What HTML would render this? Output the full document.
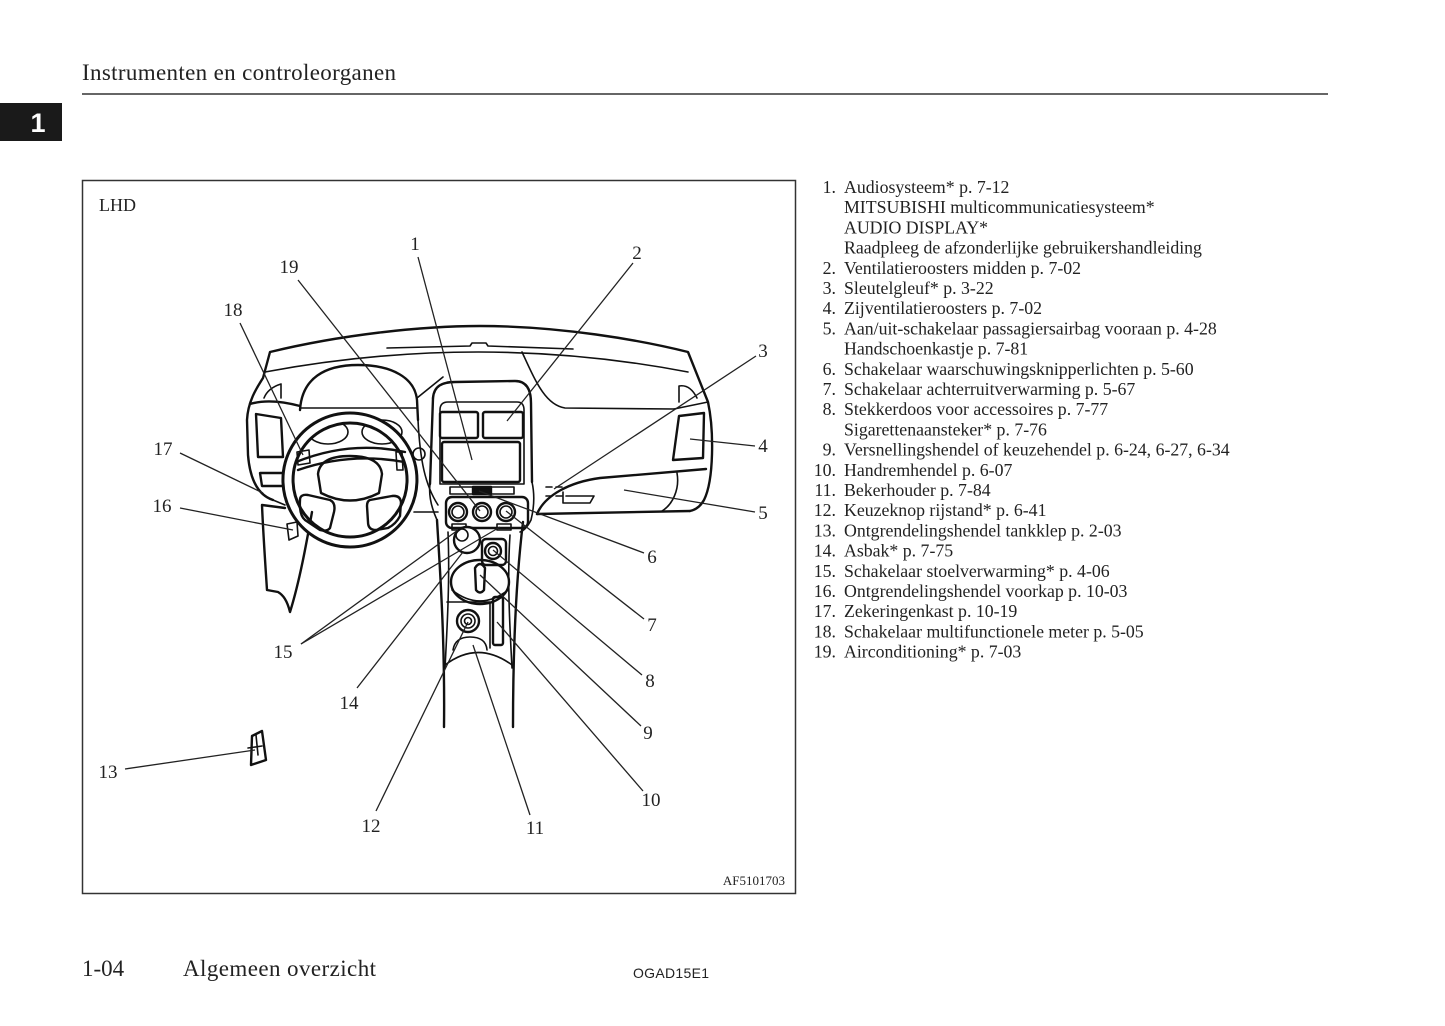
<!DOCTYPE html>
<html><head><meta charset="utf-8"><style>
html,body{margin:0;padding:0;background:#fff;}
svg{display:block;}
.s{font-family:"Liberation Serif",serif;fill:#222;}
.d{fill:none;stroke:#111;stroke-width:2.4;stroke-linejoin:round;stroke-linecap:round;}
.t{fill:none;stroke:#111;stroke-width:1.6;stroke-linecap:round;}
.l{stroke:#222;stroke-width:1.3;fill:none;}
</style></head><body>
<svg width="1445" height="1026" viewBox="0 0 1445 1026" xmlns="http://www.w3.org/2000/svg">
<rect width="1445" height="1026" fill="#fff"/>
<!-- header -->
<text class="s" x="82" y="80" font-size="23" textLength="314">Instrumenten en controleorganen</text>
<line x1="82" y1="94" x2="1328" y2="94" stroke="#333" stroke-width="1.6"/>
<rect x="0" y="103" width="62" height="38" fill="#1a1a1a"/>
<text x="38" y="132" font-family="Liberation Sans,sans-serif" font-weight="bold" font-size="27" fill="#fff" text-anchor="middle">1</text>

<!-- diagram frame -->
<rect x="82.5" y="180.5" width="713" height="713" fill="none" stroke="#333" stroke-width="1.5"/>
<text class="s" x="99" y="211" font-size="18">LHD</text>
<text class="s" x="785" y="885" font-size="13" text-anchor="end">AF5101703</text>

<!-- dashboard drawing -->
<g class="d">
  <!-- outer dash -->
  <path d="M273,500 C258,495 250,480 248,455 L247,420 C248,400 258,386 263,378 L270,352 C340,335 420,326 480,326 C560,326 640,340 688,352 L708,402 C714,430 714,480 704,500 C700,507 695,510 690,511"/>
  <path class="t" d="M265,372 Q480,332 688,372"/>
  <path class="t" d="M387,348 L470,346 L472,343 L486,343 L488,346 L573,349"/>
  <!-- left vent -->
  <path d="M250,404 Q270,398 300,406"/>
  <path d="M256,414 L281,418 L283,457 L258,457 Z"/>
  <path d="M260,473 L283,473 L285,486 L262,486 Z"/>
  <path class="t" d="M264,398 Q268,388 281,384 L281,398"/>
  <!-- knee panel (behind wheel) -->
  <path d="M262,505 L285,508 M312,512 C307,540 300,580 290,612 C287,600 283,595 278,592 L267,590 C265,560 263,530 262,505"/>
  <!-- cluster hood -->
  <path d="M300,410 C302,378 325,365 358,365 C392,365 415,378 417,400 L418,420"/>
  <path class="t" d="M417,398 L443,377"/>
  <path class="t" d="M300,408 L417,408"/>
  <ellipse class="t" cx="328" cy="432" rx="20" ry="12"/>
  <ellipse class="t" cx="382" cy="432" rx="20" ry="12"/>
  <!-- steering wheel -->
  <path d="M350,413 A67,67 0 1,1 349.9,413 Z M350,423 A57,57 0 1,0 350.1,423 Z" fill="#fff" fill-rule="evenodd" stroke-width="3"/>
  <path d="M296,462 Q350,440 405,452"/>
  <path d="M298,470 Q350,452 404,462"/>
  <path d="M318,474 Q320,456 350,456 Q380,456 382,474 L379,493 Q350,508 321,493 Z"/>
  <path d="M300,500 Q300,494 308,495 L330,500 Q336,503 334,512 L330,528 Q327,532 320,530 L305,520 Q299,515 300,500 Z"/>
  <path d="M370,500 L392,496 Q400,495 401,502 L400,516 Q396,524 388,528 L376,530 Q368,530 368,522 L367,506 Q367,501 370,500 Z"/>
  <path class="t" d="M297,452 L309,450 L310,463 L298,465 Z"/>
  <path class="t" d="M396,452 L402,452 L403,470 L397,470 Z"/>
  <circle class="t" cx="419" cy="454" r="6"/>
  <path class="t" d="M287,524 L297,522 L298,536 L289,540 Z"/>
  <!-- lower dash lines -->
  <path class="t" d="M273,500 L285,505"/>
  <path class="t" d="M414,512 L438,512"/>
  <path class="t" d="M418,420 C420,460 425,485 438,505"/>
  <!-- center stack -->
  <path d="M433,398 C434,386 442,382 455,382 L515,381 C527,381 531,390 531,403 L532,482"/>
  <path d="M433,398 L430,484"/>
  <path class="t" d="M440,410 Q440,402 448,402 L517,402 Q524,402 524,410 L524,484 L440,484 Z"/>
  <rect x="440" y="412" width="38" height="26" rx="2"/>
  <rect x="483" y="412" width="40" height="26" rx="2"/>
  <rect x="442" y="442" width="78" height="40" rx="2"/>
  <rect class="t" x="450" y="487" width="64" height="7"/>
  <rect x="473" y="487" width="18" height="7" fill="#111"/>
  <!-- right dash -->
  <path class="t" d="M522,352 C535,380 545,405 565,408 L674,409"/>
  <path class="t" d="M674,409 L708,402"/>
  <path d="M679,416 L704,413 L703,458 L673,460 Z"/>
  <path class="t" d="M679,402 L679,386 Q690,384 697,398"/>
  <path d="M537,514 C545,495 570,482 600,478 L706,469"/>
  <path d="M537,514 L690,511"/>
  <path class="t" d="M677,473 C680,490 672,505 662,511"/>
  <path class="t" d="M546,487 L552,487 M556,487 L562,487 M546,496 L552,496 M556,496 L562,496" stroke-width="2.5"/>
  <path class="t" d="M563,492 L563,503 L590,503 L594,496 L566,496"/>
  <path class="t" d="M532,482 Q536,500 531,520 Q526,530 520,532"/>
  <path class="t" d="M430,484 Q428,500 437,520"/>
  <!-- knob panel -->
  <rect x="446" y="497" width="82" height="31" rx="6"/>
  <circle cx="458" cy="512" r="9"/><circle class="t" cx="458" cy="512" r="6"/>
  <circle cx="482" cy="512" r="9"/><circle class="t" cx="482" cy="512" r="6"/>
  <circle cx="506" cy="512" r="9"/><circle class="t" cx="506" cy="512" r="6"/>
  <rect class="t" x="452" y="524" width="14" height="6"/>
  <rect class="t" x="497" y="524" width="14" height="6"/>
  <!-- console -->
  <path d="M437,520 C440,570 445,640 444,727"/>
  <path d="M523,522 C516,580 513,650 513,727"/>
  <path class="t" d="M448,532 C450,580 447,630 445,668"/>
  <path class="t" d="M510,535 C507,580 510,630 512,668"/>
  <circle cx="467" cy="540" r="13" fill="#fff"/>
  <circle class="t" cx="462" cy="535" r="6"/>
  <rect x="482" y="539" width="24" height="26" rx="4"/>
  <circle cx="493" cy="551" r="8"/><circle class="t" cx="493" cy="551" r="4.5"/>
  <ellipse cx="480" cy="582" rx="29" ry="22"/>
  <path class="t" d="M452,590 Q480,612 508,590"/>
  <path d="M475,568 Q480,560 485,568 L484,590 Q480,595 476,590 Z"/>
  <path class="t" d="M447,602 L490,602 L490,648"/>
  <circle cx="468" cy="621" r="11"/><circle class="t" cx="468" cy="621" r="7"/><circle class="t" cx="468" cy="621" r="3.5"/>
  <rect x="493" y="597" width="10" height="48" rx="2"/>
  <path class="t" d="M453,650 Q455,637 470,637 Q486,637 487,650"/>
  <path class="t" d="M445,665 Q478,640 512,665"/>
  <!-- tank release -->
  <path d="M252,736 L262,731 L266,760 L251,765 Z"/>
  <path class="t" d="M256,735 L258,755 M248,748 L262,746"/>
</g>

<!-- leader lines -->
<g class="l">
  <line x1="418" y1="257" x2="472" y2="460"/>
  <line x1="633" y1="263" x2="507" y2="421"/>
  <line x1="298" y1="280" x2="480" y2="511"/>
  <line x1="240" y1="323" x2="303" y2="455"/>
  <line x1="756" y1="356" x2="554" y2="489"/>
  <line x1="755" y1="446" x2="690" y2="439"/>
  <line x1="755" y1="512" x2="624" y2="490"/>
  <line x1="644" y1="553" x2="479" y2="491"/>
  <line x1="644" y1="619" x2="506" y2="511"/>
  <line x1="642" y1="675" x2="493" y2="550"/>
  <line x1="641" y1="726" x2="480" y2="575"/>
  <line x1="643" y1="791" x2="497" y2="622"/>
  <line x1="530" y1="815" x2="473" y2="645"/>
  <line x1="376" y1="811" x2="468" y2="622"/>
  <line x1="125" y1="769" x2="255" y2="750"/>
  <line x1="357" y1="688" x2="463" y2="552"/>
  <line x1="301" y1="644" x2="458" y2="530"/>
  <line x1="301" y1="644" x2="500" y2="527"/>
  <line x1="180" y1="508" x2="293" y2="530"/>
  <line x1="180" y1="453" x2="263" y2="493"/>
</g>

<!-- callout labels -->
<g class="s" font-size="19" text-anchor="middle">
  <text x="415" y="250">1</text>
  <text x="637" y="259">2</text>
  <text x="289" y="273">19</text>
  <text x="233" y="316">18</text>
  <text x="763" y="357">3</text>
  <text x="163" y="455">17</text>
  <text x="763" y="452">4</text>
  <text x="162" y="512">16</text>
  <text x="763" y="519">5</text>
  <text x="652" y="563">6</text>
  <text x="652" y="631">7</text>
  <text x="283" y="658">15</text>
  <text x="650" y="687">8</text>
  <text x="349" y="709">14</text>
  <text x="648" y="739">9</text>
  <text x="108" y="778">13</text>
  <text x="651" y="806">10</text>
  <text x="371" y="832">12</text>
  <text x="535" y="834">11</text>
</g>

<!-- list -->
<g class="s" font-size="17.8">
  <g text-anchor="end">
    <text x="836" y="193">1.</text>
    <text x="836" y="273.8">2.</text>
    <text x="836" y="294">3.</text>
    <text x="836" y="314.2">4.</text>
    <text x="836" y="334.4">5.</text>
    <text x="836" y="374.8">6.</text>
    <text x="836" y="395">7.</text>
    <text x="836" y="415.2">8.</text>
    <text x="836" y="455.6">9.</text>
    <text x="836" y="475.8">10.</text>
    <text x="836" y="496">11.</text>
    <text x="836" y="516.2">12.</text>
    <text x="836" y="536.4">13.</text>
    <text x="836" y="556.6">14.</text>
    <text x="836" y="576.8">15.</text>
    <text x="836" y="597">16.</text>
    <text x="836" y="617.2">17.</text>
    <text x="836" y="637.4">18.</text>
    <text x="836" y="657.6">19.</text>
  </g>
  <text x="844" y="193">Audiosysteem* p. 7-12</text>
  <text x="844" y="213.2">MITSUBISHI multicommunicatiesysteem*</text>
  <text x="844" y="233.4">AUDIO DISPLAY*</text>
  <text x="844" y="253.6">Raadpleeg de afzonderlijke gebruikershandleiding</text>
  <text x="844" y="273.8">Ventilatieroosters midden p. 7-02</text>
  <text x="844" y="294">Sleutelgleuf* p. 3-22</text>
  <text x="844" y="314.2">Zijventilatieroosters p. 7-02</text>
  <text x="844" y="334.4">Aan/uit-schakelaar passagiersairbag vooraan p. 4-28</text>
  <text x="844" y="354.6">Handschoenkastje p. 7-81</text>
  <text x="844" y="374.8">Schakelaar waarschuwingsknipperlichten p. 5-60</text>
  <text x="844" y="395">Schakelaar achterruitverwarming p. 5-67</text>
  <text x="844" y="415.2">Stekkerdoos voor accessoires p. 7-77</text>
  <text x="844" y="435.4">Sigarettenaansteker* p. 7-76</text>
  <text x="844" y="455.6">Versnellingshendel of keuzehendel p. 6-24, 6-27, 6-34</text>
  <text x="844" y="475.8">Handremhendel p. 6-07</text>
  <text x="844" y="496">Bekerhouder p. 7-84</text>
  <text x="844" y="516.2">Keuzeknop rijstand* p. 6-41</text>
  <text x="844" y="536.4">Ontgrendelingshendel tankklep p. 2-03</text>
  <text x="844" y="556.6">Asbak* p. 7-75</text>
  <text x="844" y="576.8">Schakelaar stoelverwarming* p. 4-06</text>
  <text x="844" y="597">Ontgrendelingshendel voorkap p. 10-03</text>
  <text x="844" y="617.2">Zekeringenkast p. 10-19</text>
  <text x="844" y="637.4">Schakelaar multifunctionele meter p. 5-05</text>
  <text x="844" y="657.6">Airconditioning* p. 7-03</text>
</g>

<!-- footer -->
<text class="s" x="82" y="976" font-size="23">1-04</text>
<text class="s" x="183" y="976" font-size="23" textLength="193">Algemeen overzicht</text>
<text x="633" y="978" font-family="Liberation Sans,sans-serif" font-size="14" fill="#222" textLength="76">OGAD15E1</text>
</svg>
</body></html>
